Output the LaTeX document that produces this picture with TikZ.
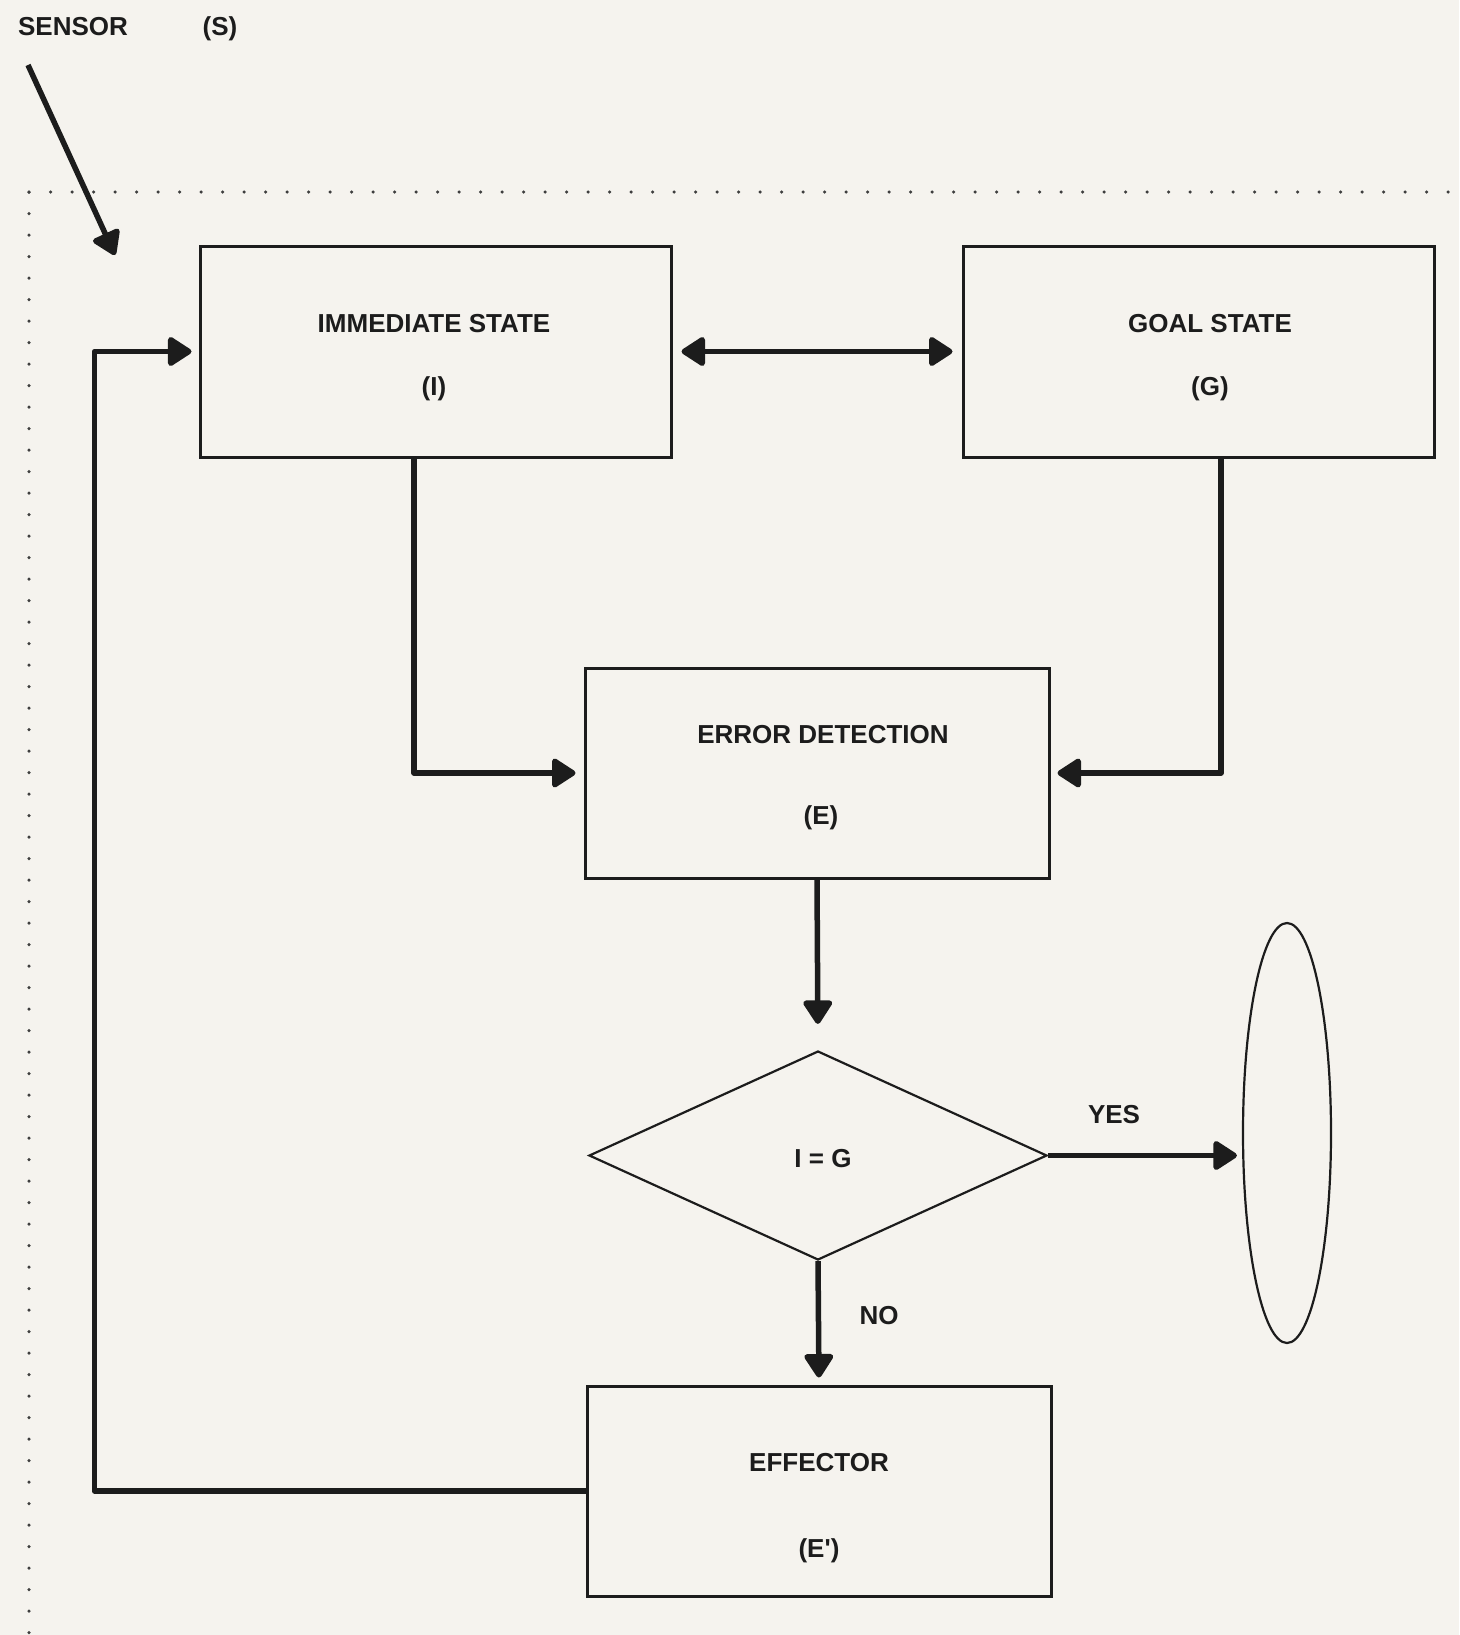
\documentclass[tikz,border=0pt]{standalone}
\usepackage{fontspec}
\setmainfont{Liberation Sans}
\usetikzlibrary{arrows.meta,shapes.geometric}
\definecolor{paper}{HTML}{F5F3EE}
\definecolor{ink}{HTML}{1C1C1C}
\begin{document}
\begin{tikzpicture}[x=1pt,y=-1pt,
  lbl/.style={font=\bfseries\fontsize{26}{30}\selectfont, text=ink, inner sep=0pt, anchor=base},
  box/.style={draw=ink, line width=3pt, rectangle, inner sep=0pt,
              minimum width=467pt, minimum height=210pt},
  thin/.style={draw=ink, line width=2.2pt, inner sep=0pt},
  tip/.tip={Triangle[length=26pt,width=32pt,line join=round]},
  conn/.style={draw=ink, line width=5.5pt, line join=round, -tip},
  dotrule/.style={draw=ink!85, line width=3.5pt, line cap=round,
                  dash pattern=on 0pt off 21.5pt}]
% paper
\fill[paper] (0,0) rectangle (1459,1635);
\useasboundingbox (0,0) rectangle (1459,1635);

% dotted frame
\coordinate (frameright) at (1459,192);
\coordinate (framecorner) at (29,192);
\coordinate (framebottom) at (29,1635);
\draw[dotrule] (framecorner) -- (frameright);
\draw[dotrule] (framecorner) -- (framebottom);

% sensor
\node[lbl] (sensor) at (73,36) {SENSOR};
\node[lbl] (sensortag) at (220,36) {(S)};
\coordinate (sensorfrom) at (28,65);
\coordinate (sensorto) at (115,255);
\draw[conn] (sensorfrom) -- (sensorto);

% boxes
\node[box, minimum width=471pt, minimum height=211pt] (imm) at (435.5,351.5) {};
\node[box, minimum width=471pt, minimum height=211pt] (goal) at (1198.5,351.5) {};
\node[box, minimum width=464pt] (err) at (817,773) {};
\node[box, minimum width=464pt] (eff) at (819,1491) {};
\node[thin, diamond, minimum width=458pt, minimum height=209pt] (dec) at (818,1155.5) {};
\node[thin, ellipse, minimum width=88pt, minimum height=420pt] (ell) at (1287,1133) {};

% texts
\node[lbl] (immtitle) at (434,332) {IMMEDIATE STATE};
\node[lbl] (immtag) at (434,395) {(I)};
\node[lbl] (goaltitle) at (1210,332) {GOAL STATE};
\node[lbl] (goaltag) at (1210,395) {(G)};
\node[lbl] (errtitle) at (823,743) {ERROR DETECTION};
\node[lbl] (errtag) at (821,824) {(E)};
\node[lbl] (dectext) at (823,1167) {I = G};
\node[lbl] (efftitle) at (819,1471) {EFFECTOR};
\node[lbl] (efftag) at (819,1557) {(E\textquotesingle)};
\node[lbl] (yes) at (1114,1123) {YES};
\node[lbl] (no) at (879,1324) {NO};

% connectors
\draw[conn, tip-tip, shorten <=9pt, shorten >=9pt] (imm) -- (goal);
\draw[conn, shorten >=8pt] ([xshift=-21.5pt]imm.south) |- (err.west);
\draw[conn, shorten >=7pt] ([xshift=22.5pt]goal.south) |- (err.east);
\draw[conn, shorten >=26pt] (err.south) -- (dec.north);
\draw[conn, shorten >=7pt] (dec.south) -- (eff.north);
\draw[conn, shorten >=5pt] (dec.east) -- (dec.east -| ell.west);
\draw[conn, shorten >=7pt] (eff.west) -| ([xshift=-104pt]imm.west) -- (imm.west);
\end{tikzpicture}
\end{document}
